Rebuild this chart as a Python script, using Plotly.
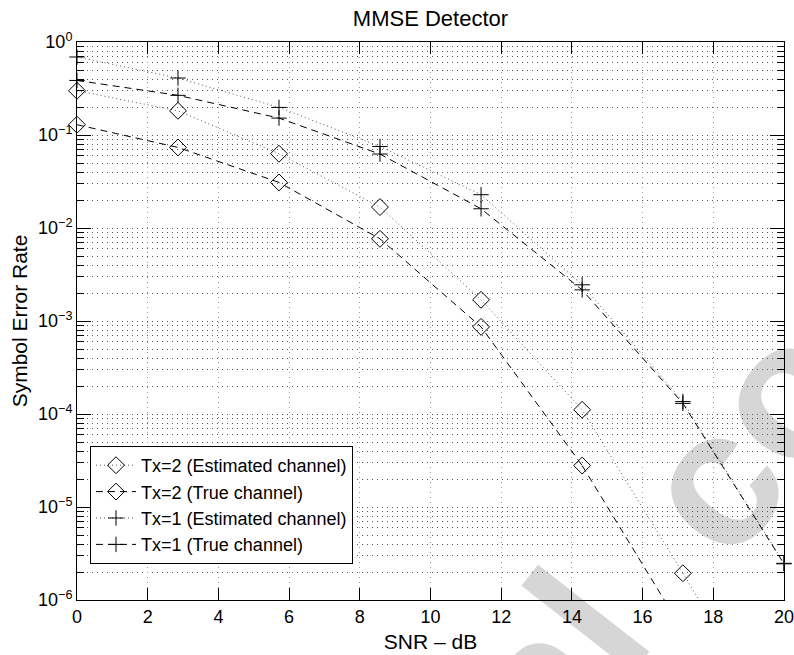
import plotly.graph_objects as go

# ---------------- data ----------------
snr_db = [0, 2.857, 5.714, 8.571, 11.43, 14.29, 17.14, 20]

ser_tx2_est = [0.299, 0.182, 0.0629, 0.0168, 0.00169, 1.11e-4, 1.94e-6, 3.0e-8]
ser_tx2_true = [0.129, 0.0735, 0.0309, 0.00765, 8.65e-4, 2.79e-5, 4.7e-7, 6.0e-9]
ser_tx1_est = [0.69, 0.41, 0.198, 0.0753, 0.0228, 0.00245, 1.36e-4, 2.48e-6]
ser_tx1_true = [0.386, 0.267, 0.152, 0.0624, 0.0161, 0.00216, 1.30e-4, 2.45e-6]

series_names = [
    "Tx=2 (Estimated channel)",
    "Tx=2 (True channel)",
    "Tx=1 (Estimated channel)",
    "Tx=1 (True channel)",
]
series_values = [ser_tx2_est, ser_tx2_true, ser_tx1_est, ser_tx1_true]

y_major = [1e-6, 1e-5, 1e-4, 1e-3, 1e-2, 1e-1, 1e0]
y_major_text = ["10<sup>−6</sup>", "10<sup>−5</sup>", "10<sup>−4</sup>", "10<sup>−3</sup>",
                "10<sup>−2</sup>", "10<sup>−1</sup>", "10<sup>0</sup>"]
y_min, y_max = 1e-6, 1e0

# ---------------- styles ----------------
FONT = "Liberation Sans, Arial, Helvetica, sans-serif"
styles = [
    dict(dash="1px,3px", color="#555555", symbol="diamond-open", size=13),
    dict(dash="7px,5px", color="#000000", symbol="diamond-open", size=13),
    dict(dash="1px,3px", color="#555555", symbol="cross-thin-open", size=11),
    dict(dash="7px,5px", color="#000000", symbol="cross-thin-open", size=11),
]

fig = go.Figure()

for name, vals, st in zip(series_names, series_values, styles):
    n_in = sum(1 for v in vals if v >= y_min)
    fig.add_trace(go.Scatter(
        x=snr_db[:n_in], y=vals[:n_in], name=name, mode="lines+markers",
        line=dict(color=st["color"], width=1, dash=st["dash"]),
        marker=dict(symbol=st["symbol"], size=st["size"], color="black",
                    line=dict(color="black", width=1)),
        cliponaxis=False,
    ))
    if n_in < len(vals):
        fig.add_trace(go.Scatter(
            x=snr_db[n_in - 1:], y=vals[n_in - 1:], mode="lines", showlegend=False,
            line=dict(color=st["color"], width=1, dash=st["dash"]),
            hoverinfo="skip",
        ))

# minor log ticks
minor_vals = []
for d in range(-6, 0):
    for k in range(2, 10):
        minor_vals.append(k * 10.0 ** d)

grid_dash = "1px,4px"

fig.update_xaxes(
    range=[0, 20], dtick=2, tick0=0, automargin=False, ticklabeloverflow="allow",
    ticks="inside", ticklen=12, tickwidth=1, tickcolor="black",
    showline=True, linecolor="black", linewidth=1, mirror="ticks",
    showgrid=True, gridcolor="#9a9a9a", gridwidth=1, griddash=grid_dash,
    zeroline=False,
    tickfont=dict(family=FONT, size=18, color="black"),
    title=dict(text="SNR – dB", font=dict(family=FONT, size=21, color="black"), standoff=8),
)
fig.update_yaxes(
    type="log", range=[-6, 0], automargin=False, ticklabeloverflow="allow",
    tickmode="array", tickvals=y_major, ticktext=y_major_text,
    ticks="inside", ticklen=14, tickwidth=1, tickcolor="black",
    showline=True, linecolor="black", linewidth=1, mirror="ticks",
    showgrid=True, gridcolor="#555555", gridwidth=1, griddash=grid_dash,
    minor=dict(tickvals=minor_vals, ticks="inside", ticklen=7, tickcolor="black",
               showgrid=True, gridcolor="#555555", gridwidth=1, griddash=grid_dash),
    zeroline=False,
    tickfont=dict(family=FONT, size=18, color="black"),
    title=dict(text="Symbol Error Rate", font=dict(family=FONT, size=21, color="black"), standoff=4),
)

W, H = 794, 655
ML, MR, MT, MB = 77, 10, 42, 55
PW, PH = W - ML - MR, H - MT - MB


def px_to_paper(px, py):
    return (px - ML) / PW, (H - MB - py) / PH


wm = [("al", 540, 652), ("co", 733, 425)]
shapes = []
for txt, px, py in wm:
    xp, yp = px_to_paper(px, py)
    shapes.append(dict(
        type="rect", xref="paper", yref="paper",
        x0=xp - 0.001, x1=xp + 0.001, y0=yp - 0.001, y1=yp + 0.001,
        line=dict(width=0), fillcolor="rgba(0,0,0,0)", layer="below",
        label=dict(text=txt, textangle=-52, textposition="middle center",
                   font=dict(family=FONT, size=195, color="#d6d6d6", weight="bold")),
    ))

fig.update_layout(
    width=W, height=H,
    margin=dict(l=ML, r=MR, t=MT, b=MB, autoexpand=False),
    paper_bgcolor="white", plot_bgcolor="rgba(0,0,0,0)",
    font=dict(family=FONT, color="black"),
    title=dict(text="MMSE Detector", x=0.5, xref="paper", xanchor="center",
               y=1 - 18 / H, yref="container", yanchor="middle",
               font=dict(family=FONT, size=22, color="black")),
    legend=dict(x=(90 - ML) / PW, y=(H - MB - 446) / PH, xanchor="left", yanchor="top",
                bgcolor="white", bordercolor="black", borderwidth=1,
                font=dict(family=FONT, size=18, color="black"),
                tracegroupgap=0, itemwidth=40),
    shapes=shapes,
    showlegend=True,
)

fig.write_html("out.html")
